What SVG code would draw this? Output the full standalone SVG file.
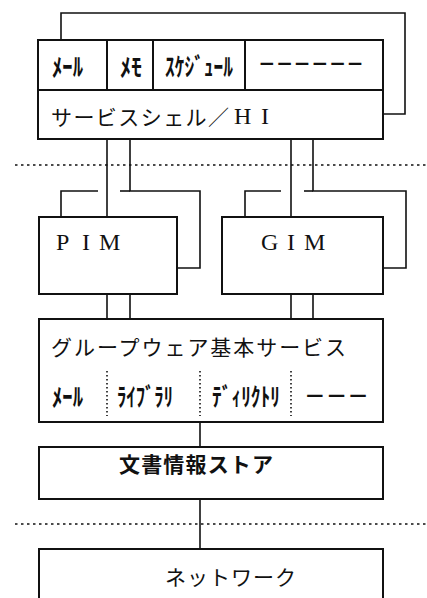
<svg xmlns="http://www.w3.org/2000/svg" width="427" height="598" viewBox="0 0 427 598">
<style>
.box{fill:#fff;stroke:#111;stroke-width:2}
.ln{fill:none;stroke:#111;stroke-width:1.6}
.dot{fill:none;stroke:#111;stroke-width:1.4;stroke-dasharray:2.5 3.5}
.vdot{fill:none;stroke:#111;stroke-width:1.6;stroke-dasharray:1.5 2.5}
.hw{font-family:"Noto Sans CJK JP","Noto Sans",sans-serif;font-weight:bold;font-size:25px;fill:#111}
.jp{font-family:"Noto Sans CJK JP","Noto Sans",sans-serif;font-size:21px;fill:#111}
.ser{font-family:"Liberation Serif","Noto Sans CJK JP",serif;font-size:24px;fill:#111}
</style>
<rect width="427" height="598" fill="#fff"/>
<g id="connectors">
<path class="ln" d="M61 40 V13 H405 V114 H383"/>
<line class="dot" x1="15" y1="165" x2="427" y2="165"/>
<line class="dot" x1="15" y1="524" x2="427" y2="524"/>
<path class="ln" d="M107 139 V217"/>
<path class="ln" d="M130 139 V191 H200 V268 H177"/>
<path class="ln" d="M61 217 V191 H98"/>
<path class="ln" d="M120 191 H130"/>
<path class="ln" d="M291 139 V217"/>
<path class="ln" d="M313 139 V191 H406 V268 H383"/>
<path class="ln" d="M245 217 V191 H281"/>
<path class="ln" d="M304 191 H313"/>
<path class="ln" d="M107 294 V319 M130 294 V319 M291 294 V319 M313 294 V319"/>
<path class="ln" d="M200 416 V447"/>
<path class="ln" d="M200 499 V549"/>
</g>
<g id="service-shell">
<rect class="box" x="38" y="40" width="345" height="99"/>
<line class="box" x1="38" y1="90" x2="383" y2="90"/>
<path class="box" d="M107 40 V90 M153 40 V90 M245 40 V90"/>
<text class="hw" x="52" y="76" textLength="31" lengthAdjust="spacingAndGlyphs">ﾒｰﾙ</text>
<text class="hw" x="120" y="76" textLength="22" lengthAdjust="spacingAndGlyphs">ﾒﾓ</text>
<text class="hw" x="165" y="76" textLength="68" lengthAdjust="spacingAndGlyphs">ｽｹｼﾞｭｰﾙ</text>
<text class="jp" x="258" y="71" font-weight="bold" textLength="106" lengthAdjust="spacingAndGlyphs">－－－－－－</text>
<text class="jp" x="51" y="125" textLength="178" lengthAdjust="spacing">サービスシェル／</text>
<text class="ser" x="234 261" y="124" font-size="22">HI</text>
</g>
<g id="pim">
<rect class="box" x="39" y="217" width="138" height="77"/>
<text class="ser" x="56 82 99" y="250">PIM</text>
</g>
<g id="gim">
<rect class="box" x="222" y="217" width="161" height="77"/>
<text class="ser" x="261 287 304" y="250">GIM</text>
</g>
<g id="groupware">
<rect class="box" x="39" y="319" width="344" height="103"/>
<text class="jp" x="51" y="355" textLength="295" lengthAdjust="spacing">グループウェア基本サービス</text>
<path class="vdot" d="M107 371 V416 M200 371 V416 M291 371 V416"/>
<text class="hw" x="52" y="406" textLength="31" lengthAdjust="spacingAndGlyphs">ﾒｰﾙ</text>
<text class="hw" x="117" y="406" textLength="56" lengthAdjust="spacingAndGlyphs">ﾗｲﾌﾞﾗﾘ</text>
<text class="hw" x="212" y="406" textLength="68" lengthAdjust="spacingAndGlyphs">ﾃﾞｨﾘｸﾄﾘ</text>
<text class="jp" x="304" y="403" font-weight="bold" textLength="65" lengthAdjust="spacingAndGlyphs">－－－</text>
</g>
<g id="doc-store">
<rect class="box" x="39" y="447" width="344" height="52"/>
<text class="jp" x="119" y="472" font-size="22" font-weight="bold" textLength="154" lengthAdjust="spacing">文書情報ストア</text>
</g>
<g id="network">
<path class="box" d="M39 600 V549 H383 V600"/>
<text class="jp" x="165" y="585" textLength="131" lengthAdjust="spacing">ネットワーク</text>
</g>
</svg>
